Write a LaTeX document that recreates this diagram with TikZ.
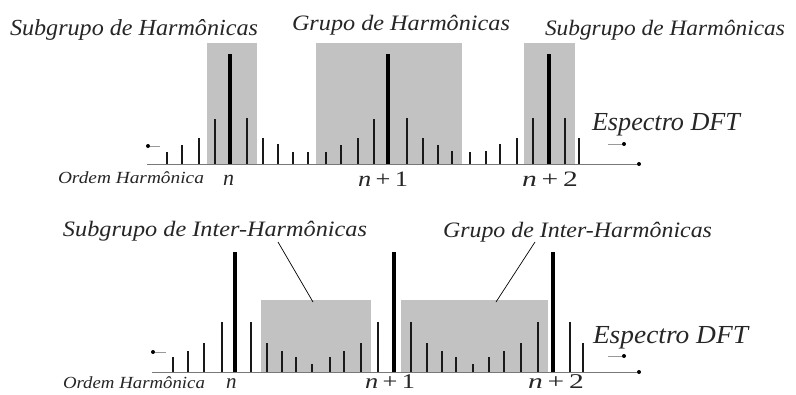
\documentclass[tikz,border=0pt]{standalone}
\usepackage{fontspec}
\setmainfont{Liberation Serif}
\usepackage{graphicx}
\definecolor{boxgray}{RGB}{194,194,194}
\definecolor{axisgray}{RGB}{120,120,120}
\definecolor{bardark}{RGB}{25,25,25}
\newcommand{\fitw}[2]{\resizebox{#1}{\height}{#2}}
\begin{document}
\begin{tikzpicture}[x=1pt,y=-1pt,
  lbl/.style={inner sep=0pt,outer sep=0pt,anchor=base west,font=\itshape,text=black!85},
  graybox/.style={fill=boxgray,draw=none},
  axisline/.style={draw=axisgray,line width=1pt},
  thinbar/.style={draw=bardark,line width=2.7pt},
  thickbar/.style={draw=black,line width=4.2pt},
  tipdot/.style={circle,fill=black,inner sep=0pt,minimum size=4pt},
  smallarrow/.style={draw=gray!80,line width=0.9pt},
  leader/.style={draw=black,line width=0.7pt}]
\useasboundingbox (0,0) rectangle (796,394);
\fill[white] (0,0) rectangle (796,394);

% ---------------- top panel ----------------
\fill[graybox] (207,43) rectangle (257,164);
\fill[graybox] (316,43) rectangle (462,164);
\fill[graybox] (524,43) rectangle (575,164);

\coordinate (ta0) at (147,164);
\node[tipdot] (ta1) at (639,164) {};
\draw[axisline] (ta0) -- (ta1);

\foreach \xx/\yy in {167/152,182/145,199/138,215/119,247/118,263/138,278/144,293/152,308/152,326/152,341/145,358/138,374/119,407/118,423/138,438/145,452/151,470/152,486/151,500/144,517/138,533/118,565/118,579/138}
  \draw[thinbar] (\xx,164) -- (\xx,\yy);
\foreach \xx in {230,388,549}
  \draw[thickbar] (\xx,164) -- (\xx,54);

\node[tipdot,minimum size=4pt] (tl0) at (148,146) {};
\coordinate (tl1) at (160,146);
\draw[smallarrow] (tl0) -- (tl1);
\coordinate (tr0) at (608,144);
\node[tipdot,minimum size=4pt] (tr1) at (624,144) {};
\draw[smallarrow] (tr0) -- (tr1);

\node[lbl,font=\itshape\fontsize{23}{23}\selectfont] (t1) at (10,35) {\fitw{248pt}{Subgrupo de Harmônicas}};
\node[lbl,font=\itshape\fontsize{22}{22}\selectfont] (t2) at (292,30) {\fitw{218pt}{Grupo de Harmônicas}};
\node[lbl,font=\itshape\fontsize{22}{22}\selectfont] (t3) at (545,35) {\fitw{240pt}{Subgrupo de Harmônicas}};
\node[lbl,font=\itshape\fontsize{26}{26}\selectfont] (t4) at (592,130) {\fitw{148pt}{Espectro DFT}};
\node[lbl,font=\itshape\fontsize{17}{17}\selectfont] (t5) at (58,183) {\fitw{146pt}{Ordem Harmônica}};
\node[lbl,font=\fontsize{22}{22}\selectfont] (t6) at (223,185) {\textit{n}};
\node[lbl,font=\fontsize{22}{22}\selectfont] (t7) at (358,186) {\fitw{50pt}{\textit{n}\,+\,1}};
\node[lbl,font=\fontsize{22}{22}\selectfont] (t8) at (522,186) {\fitw{56pt}{\textit{n}\,+\,2}};

% ---------------- bottom panel ----------------
\fill[graybox] (261,300) rectangle (371,372);
\fill[graybox] (401,300) rectangle (548,372);

\coordinate (ba0) at (152,372);
\node[tipdot] (ba1) at (639,372) {};
\draw[axisline] (ba0) -- (ba1);

\foreach \xx/\yy in {173/357,188/351,204/343,222/322,251/322,267/343,282/351,296/357,312/364,330/357,344/351,361/343,378/322,411/322,427/343,442/351,456/357,473/364,489/357,504/351,521/343,538/322,570/322,583/343}
  \draw[thinbar] (\xx,372) -- (\xx,\yy);
\foreach \xx in {235,394,553}
  \draw[thickbar] (\xx,372) -- (\xx,252);

\node[tipdot,minimum size=4pt] (bl0) at (153,352) {};
\coordinate (bl1) at (166,352);
\draw[smallarrow] (bl0) -- (bl1);
\coordinate (br0) at (608,356);
\node[tipdot,minimum size=4pt] (br1) at (624,356) {};
\draw[smallarrow] (br0) -- (br1);

\node[lbl,font=\itshape\fontsize{22}{22}\selectfont] (b1) at (63,236) {\fitw{304pt}{Subgrupo de Inter-Harmônicas}};
\node[lbl,font=\itshape\fontsize{22}{22}\selectfont] (b2) at (443,237) {\fitw{269pt}{Grupo de Inter-Harmônicas}};
\node[lbl,font=\itshape\fontsize{26}{26}\selectfont] (b3) at (593,343) {\fitw{155pt}{Espectro DFT}};
\node[lbl,font=\itshape\fontsize{17}{17}\selectfont] (b4) at (63,388) {\fitw{142pt}{Ordem Harmônica}};
\node[lbl,font=\fontsize{21}{21}\selectfont] (b5) at (226,388) {\textit{n}};
\node[lbl,font=\fontsize{21}{21}\selectfont] (b6) at (365,388) {\fitw{50pt}{\textit{n}\,+\,1}};
\node[lbl,font=\fontsize{21}{21}\selectfont] (b7) at (528,388) {\fitw{56pt}{\textit{n}\,+\,2}};

\coordinate (c1) at (278,242);
\coordinate (c2) at (313,302);
\draw[leader] (c1) -- (c2);
\coordinate (c3) at (535,242);
\coordinate (c4) at (496,302);
\draw[leader] (c3) -- (c4);
\end{tikzpicture}
\end{document}
